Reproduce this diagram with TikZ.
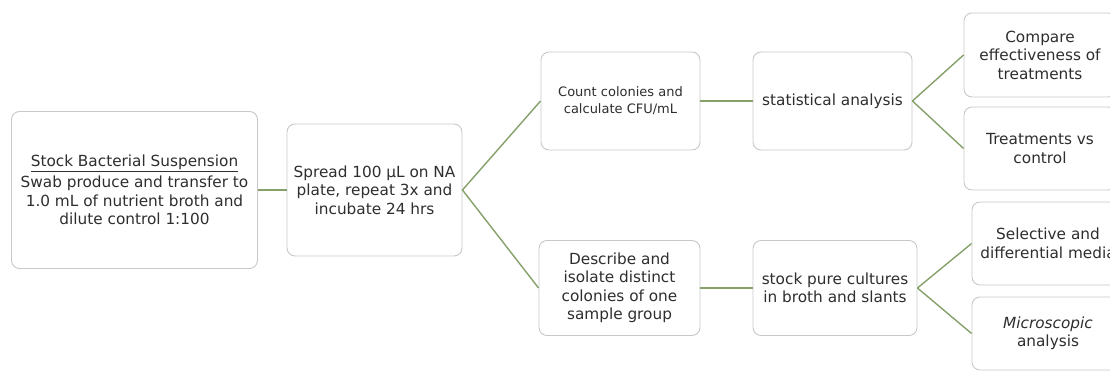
\documentclass[tikz,border=0pt]{standalone}
\usepackage{fontspec}
\setmainfont{DejaVu Sans}
\definecolor{boxline}{HTML}{C8C8C8}
\definecolor{linkgreen}{HTML}{86A06A}
\definecolor{txt}{HTML}{2E2E2E}
\begin{document}
\begin{tikzpicture}[x=1pt,y=-1pt,
  stepbox/.style={draw=boxline, line width=0.9pt, rounded corners=8pt, fill=white,
    inner sep=0pt, align=center, text=txt,
    font=\fontsize{15.3}{18.5}\selectfont},
  link/.style={draw=linkgreen, line width=1.4pt}]
\useasboundingbox (0,0) rectangle (1110,371);
\clip (0,0) rectangle (1110,371);
\node[stepbox, minimum width=246pt, minimum height=157pt] (b1) at (134.5,190)
  {\underline{Stock Bacterial Suspension}\\[3pt]Swab produce and transfer to\\1.0 mL of nutrient broth and\\dilute control 1:100};
\node[stepbox, minimum width=175pt, minimum height=132pt] (b2) at (374.5,190)
  {Spread 100 µL on NA\\plate, repeat 3x and\\incubate 24 hrs};
\node[stepbox, minimum width=159pt, minimum height=98pt, font=\fontsize{13}{17}\selectfont] (b3) at (620.5,101)
  {Count colonies and\\calculate CFU/mL};
\node[stepbox, minimum width=159pt, minimum height=98pt] (b4) at (832.5,101)
  {statistical analysis};
\node[stepbox, minimum width=152pt, minimum height=84pt] (b5) at (1040,55)
  {Compare\\effectiveness of\\treatments};
\node[stepbox, minimum width=152pt, minimum height=83pt] (b6) at (1040,148.5)
  {Treatments vs\\control};
\node[stepbox, minimum width=161pt, minimum height=95pt] (b7) at (619.5,288)
  {Describe and\\isolate distinct\\colonies of one\\sample group};
\node[stepbox, minimum width=164pt, minimum height=95pt] (b8) at (835,288)
  {stock pure cultures\\in broth and slants};
\node[stepbox, minimum width=152pt, minimum height=83pt] (b9) at (1048,243.5)
  {Selective and\\differential media};
\node[stepbox, minimum width=152pt, minimum height=73pt] (b10) at (1048,333.5)
  {\itshape Microscopic\\analysis};
\draw[link] (b1.east) -- (b2.west);
\draw[link] (b2.east) -- (b3.west);
\draw[link] (b2.east) -- (b7.west);
\draw[link] (b3.east) -- (b4.west);
\draw[link] (b4.east) -- (b5.west);
\draw[link] (b4.east) -- (b6.west);
\draw[link] (b7.east) -- (b8.west);
\draw[link] (b8.east) -- (b9.west);
\draw[link] (b8.east) -- (b10.west);
\end{tikzpicture}
\end{document}
